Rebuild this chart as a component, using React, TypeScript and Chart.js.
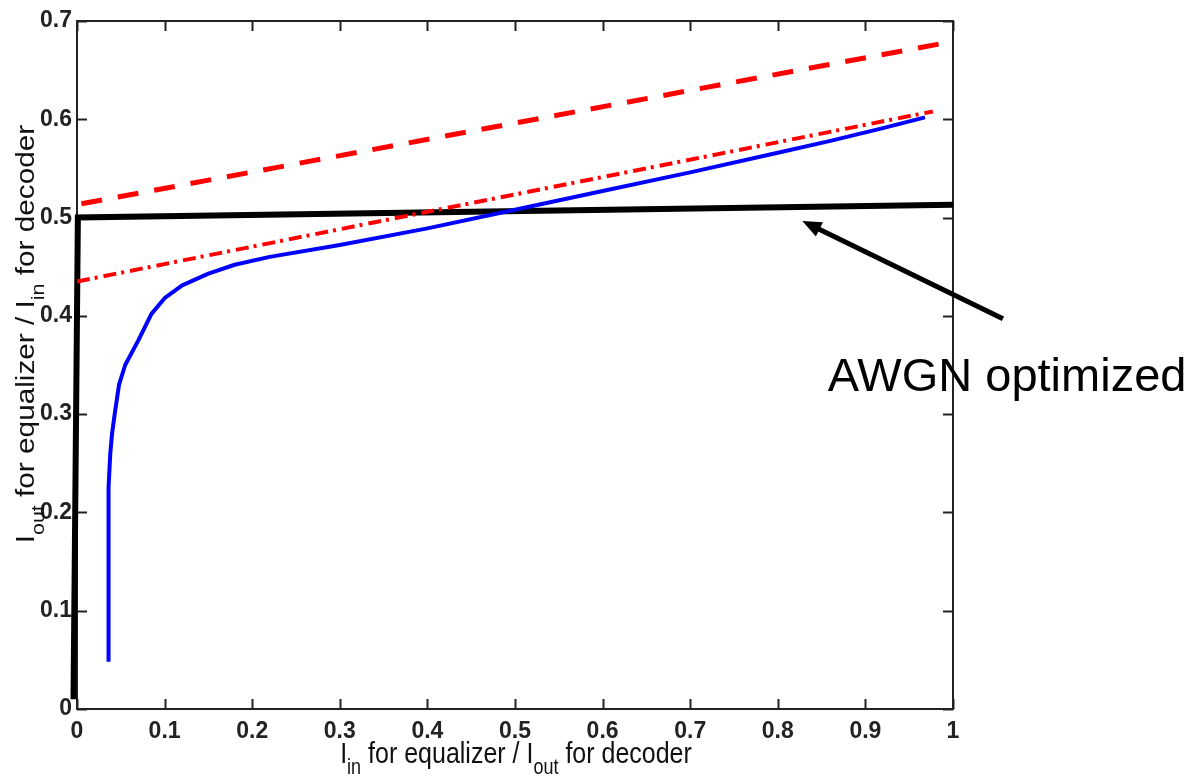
import React, { useEffect, useRef } from 'react';
import { Chart, registerables } from 'chart.js';

Chart.register(...registerables);

// ---- data ----
const BLUE_X = [0.036, 0.036, 0.036, 0.038, 0.040, 0.043, 0.048, 0.055, 0.070, 0.085, 0.100, 0.120, 0.150, 0.180, 0.220, 0.300, 0.400, 0.500, 0.600, 0.700, 0.800, 0.860, 0.920, 0.968];
const BLUE_Y = [0.048, 0.100, 0.225, 0.260, 0.280, 0.300, 0.330, 0.350, 0.375, 0.402, 0.418, 0.431, 0.443, 0.452, 0.460, 0.472, 0.489, 0.508, 0.527, 0.546, 0.566, 0.578, 0.591, 0.602];

const RED_DASH_X = [0.005, 0.993];
const RED_DASH_Y = [0.514, 0.678];

const RED_DASHDOT_X = [0.0, 0.977];
const RED_DASHDOT_Y = [0.435, 0.608];

const BLACK_X = [-0.004, 0.001, 1.0];
const BLACK_Y = [0.01, 0.5, 0.513];

const ARROW_X = [1.057, 0.828]; // tail, tip
const ARROW_Y = [0.397, 0.4965];

const NOTE_TEXT = 'AWGN optimized';
const NOTE_X = 0.857;
const NOTE_Y = 0.3235;

const X_MIN = 0, X_MAX = 1, X_STEP = 0.1;
const Y_MIN = 0, Y_MAX = 0.7, Y_STEP = 0.1;

type Seg = [string, boolean];
const X_LABEL: Seg[] = [['I', false], ['in', true], [' for equalizer / I', false], ['out', true], [' for decoder', false]];
const Y_LABEL: Seg[] = [['I', false], ['out', true], [' for equalizer / I', false], ['in', true], [' for decoder', false]];

const FONT = '"Liberation Sans", Arial, Helvetica, sans-serif';

const pts = (xs: number[], ys: number[]) => xs.map((x, i) => ({ x, y: ys[i] }));
const fmt = (v: any) => String(Math.round(Number(v) * 10) / 10);

function drawRich(ctx: CanvasRenderingContext2D, segs: Seg[], cx: number, cy: number, rotate: boolean, size: number, stretch: number) {
  ctx.save();
  ctx.translate(cx, cy);
  ctx.scale(1, stretch);
  if (rotate) ctx.rotate(-Math.PI / 2);
  ctx.fillStyle = '#111';
  ctx.textBaseline = 'alphabetic';
  ctx.textAlign = 'left';
  const widths = segs.map(([t, sub]) => {
    ctx.font = `${sub ? Math.round(size * 0.7) : size}px ${FONT}`;
    return ctx.measureText(t).width;
  });
  const total = widths.reduce((a, b) => a + b, 0);
  let x = -total / 2;
  segs.forEach(([t, sub], i) => {
    ctx.font = `${sub ? Math.round(size * 0.7) : size}px ${FONT}`;
    ctx.fillText(t, x, sub ? size * 0.38 : 0);
    x += widths[i];
  });
  ctx.restore();
}

const framePlugin = {
  id: 'frame',
  beforeDatasetsDraw(chart: any) {
    const { ctx, chartArea: a, scales } = chart;
    const xs = scales.x, ys = scales.y;
    ctx.save();
    ctx.strokeStyle = '#222';
    ctx.lineWidth = 2;
    ctx.beginPath();
    ctx.rect(a.left, a.top, a.right - a.left, a.bottom - a.top);
    ctx.stroke();
    const tl = 10;
    ctx.beginPath();
    for (let v = X_MIN; v <= X_MAX + 1e-9; v += X_STEP) {
      const px = Math.round(xs.getPixelForValue(v)) + 0.5;
      ctx.moveTo(px, a.bottom); ctx.lineTo(px, a.bottom - tl);
      ctx.moveTo(px, a.top); ctx.lineTo(px, a.top + tl);
    }
    for (let v = Y_MIN; v <= Y_MAX + 1e-9; v += Y_STEP) {
      const py = Math.round(ys.getPixelForValue(v)) + 0.5;
      ctx.moveTo(a.left, py); ctx.lineTo(a.left + tl, py);
      ctx.moveTo(a.right, py); ctx.lineTo(a.right - tl, py);
    }
    ctx.lineWidth = 2;
    ctx.stroke();
    ctx.restore();
  },
  afterDraw(chart: any) {
    const { ctx, scales } = chart;
    const xs = scales.x, ys = scales.y;
    // axis labels (source image is vertically stretched)
    drawRich(ctx, X_LABEL, 516, 763, false, 25, 1.19);
    drawRich(ctx, Y_LABEL, 34, 334, true, 25, 1.19);

    // arrow
    const tx = xs.getPixelForValue(ARROW_X[0]);
    const ty = ys.getPixelForValue(ARROW_Y[0]);
    const hx = xs.getPixelForValue(ARROW_X[1]);
    const hy = ys.getPixelForValue(ARROW_Y[1]);
    const ang = Math.atan2(hy - ty, hx - tx);
    const hl = 19, hw = 8;
    const bx = hx - hl * Math.cos(ang), by = hy - hl * Math.sin(ang);
    ctx.save();
    ctx.strokeStyle = '#000';
    ctx.fillStyle = '#000';
    ctx.lineWidth = 5;
    ctx.beginPath();
    ctx.moveTo(tx, ty);
    ctx.lineTo(bx + 2 * Math.cos(ang), by + 2 * Math.sin(ang));
    ctx.stroke();
    ctx.beginPath();
    ctx.moveTo(hx, hy);
    ctx.lineTo(bx + hw * Math.sin(ang), by - hw * Math.cos(ang));
    ctx.lineTo(bx - hw * Math.sin(ang), by + hw * Math.cos(ang));
    ctx.closePath();
    ctx.fill();

    // annotation text
    ctx.font = `47px ${FONT}`;
    ctx.textAlign = 'left';
    ctx.textBaseline = 'alphabetic';
    ctx.fillText(NOTE_TEXT, xs.getPixelForValue(NOTE_X), ys.getPixelForValue(NOTE_Y));
    ctx.restore();
  },
};

export default function App() {
  const ref = useRef<HTMLCanvasElement | null>(null);

  useEffect(() => {
    if (!ref.current) return;
    const tickFont = { family: FONT, size: 23, weight: 'bold' as const };
    const chart = new Chart(ref.current, {
      type: 'line',
      data: {
        datasets: [
          {
            data: pts(RED_DASH_X, RED_DASH_Y),
            borderColor: '#ff0000',
            borderWidth: 5,
            borderDash: [21, 16],
            borderCapStyle: 'butt',
            pointRadius: 0,
          },
          {
            data: pts(RED_DASHDOT_X, RED_DASHDOT_Y),
            borderColor: '#ff0000',
            borderWidth: 4,
            borderDash: [13, 5, 3, 6],
            pointRadius: 0,
          },
          {
            data: pts(BLUE_X, BLUE_Y),
            borderColor: '#0000ff',
            borderWidth: 4,
            borderJoinStyle: 'round',
            tension: 0,
            pointRadius: 0,
          },
          {
            data: pts(BLACK_X, BLACK_Y),
            borderColor: '#000000',
            borderWidth: 6,
            pointRadius: 0,
            clip: false,
          } as any,
        ],
      },
      options: {
        animation: false,
        responsive: false,
        events: [],
        layout: { padding: { top: 21, right: 245, left: 0, bottom: 0 } },
        plugins: { legend: { display: false }, tooltip: { enabled: false } },
        scales: {
          x: {
            type: 'linear',
            min: X_MIN,
            max: X_MAX,
            grid: { display: false, drawTicks: false },
            border: { display: false },
            ticks: { stepSize: X_STEP, font: tickFont, color: '#222', padding: 9, maxRotation: 0, callback: fmt },
            afterFit: (s: any) => { s.height = 67; },
          },
          y: {
            type: 'linear',
            min: Y_MIN,
            max: Y_MAX,
            grid: { display: false, drawTicks: false },
            border: { display: false },
            ticks: { stepSize: Y_STEP, font: tickFont, color: '#222', padding: 5, callback: fmt },
            afterFit: (s: any) => { s.width = 77; },
          },
        },
      },
      plugins: [framePlugin],
    });
    return () => chart.destroy();
  }, []);

  return (
    <div style={{ position: 'fixed', left: 0, top: 0, width: 1198, height: 776, background: '#fff' }}>
      <canvas ref={ref} width={1198} height={776} style={{ width: 1198, height: 776, display: 'block' }} />
    </div>
  );
}
